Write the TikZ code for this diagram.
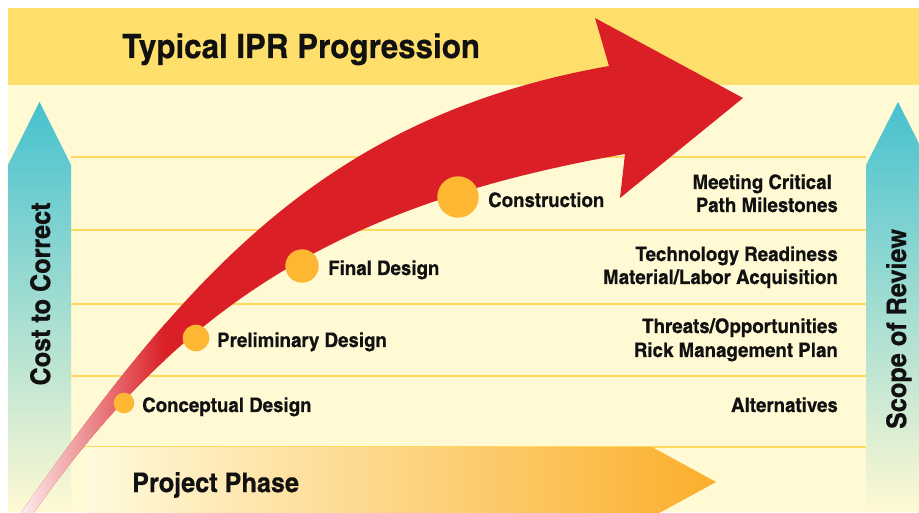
\documentclass[tikz,border=0pt]{standalone}
\usepackage{fontspec}
\newfontfamily\cnfont[FakeStretch=1.14, FakeBold=0.5]{texgyreheroscn-bold.otf}

\definecolor{bannerY}{HTML}{FFDF6B}
\definecolor{paleY}{HTML}{FFF9D4}
\definecolor{lineY}{HTML}{FFD95C}
\definecolor{arrowR}{HTML}{DA1F26}
\definecolor{dotO}{HTML}{FDB733}
\definecolor{tealB}{HTML}{46C1CF}
\definecolor{phaseO}{HTML}{FBAF2B}
\definecolor{inkK}{HTML}{111111}

\newcommand{\iprarrow}{(20,-2) to[out=55,in=190] (609,446) -- (595,494) -- (743,414) -- (620,314) -- (625,358) to[out=190,in=55] (33,-2) -- cycle}

\tikzset{
	gridline/.style={lineY, line width=2pt},
	sidearrow/.style={top color=tealB, bottom color=paleY},
	phasedot/.style={circle, fill=dotO, inner sep=0pt},
	phaselabel/.style={anchor=base west, inner sep=0pt, text=inkK, font=\cnfont\fontsize{20}{22}\selectfont},
	reviewitem/.style={anchor=base east, inner sep=0pt, text=inkK, font=\cnfont\fontsize{20}{22}\selectfont},
	axislabel/.style={anchor=base, inner sep=0pt, text=inkK, font=\cnfont\fontsize{27}{29}\selectfont},
}

\begin{document}
\begin{tikzpicture}[x=1pt,y=1pt]
		%\draw[help lines] (0,0) grid[step=50] (919,512);
		\clip (0,0) rectangle (919,512);
		\fill[white] (0,0) rectangle (919,512);
		\fill[paleY] (8,0) rectangle (919,427);
		\fill[bannerY] (8,427) rectangle (919,504);
		
		\foreach \y in {355,282,208,136,65}
			\draw[gridline] (71,\y) -- (866,\y);
		
		\shade[sidearrow] (8,0) -- (8,347) -- (39.5,410) -- (71,347) -- (71,0) -- cycle;
		\shade[sidearrow] (866,0) -- (866,347) -- (898,410) -- (930,347) -- (930,0) -- cycle;
		\shade[left color=paleY!80!white, right color=phaseO] (85,65) -- (652,65) -- (716,30) -- (652,-5) -- (85,-5) -- cycle;
		
		\fill[arrowR] \iprarrow;
		\begin{scope}
			\clip \iprarrow;
			\shade[left color=arrowR!6, middle color=arrowR!68, right color=arrowR] (18,-5) rectangle (165,260);
		\end{scope}
		
		\node[phasedot, minimum size=20.6pt] (concdot) at (124,109) {};
		\node[phasedot, minimum size=26.6pt] (prelimdot) at (196,174) {};
		\node[phasedot, minimum size=33.4pt] (finaldot) at (302,246) {};
		\node[phasedot, minimum size=41.4pt] (constdot) at (458,315) {};
		
		\node[phaselabel] (conclbl) at (142,100) {Conceptual Design};
		\node[phaselabel] (prelimlbl) at (217,165) {Preliminary Design};
		\node[phaselabel] (finallbl) at (328,237) {Final Design};
		\node[phaselabel] (constlbl) at (488,305) {Construction};
		
		\node[reviewitem] (meetA) at (832,323) {Meeting Critical};
		\node[reviewitem] (meetB) at (838,300) {Path Milestones};
		\node[reviewitem] (techA) at (838,251) {Technology Readiness};
		\node[reviewitem] (techB) at (838,228) {Material/Labor Acquisition};
		\node[reviewitem] (riskA) at (838,179) {Threats/Opportunities};
		\node[reviewitem] (riskB) at (838,155) {Rick Management Plan};
		\node[reviewitem] (altlbl) at (838,100) {Alternatives};
		
		\node[anchor=base west, inner sep=0pt, text=inkK, font=\cnfont\fontsize{33.5}{36}\selectfont] (title) at (122,454) {Typical IPR Progression};
		\node[axislabel, anchor=base west] (phaselbl) at (132,20) {Project Phase};
		\node[axislabel, rotate=90] (costlbl) at (50,218) {Cost to Correct};
		\node[axislabel, rotate=90] (scopelbl) at (906,183) {Scope of Review};
\end{tikzpicture}
\end{document}
